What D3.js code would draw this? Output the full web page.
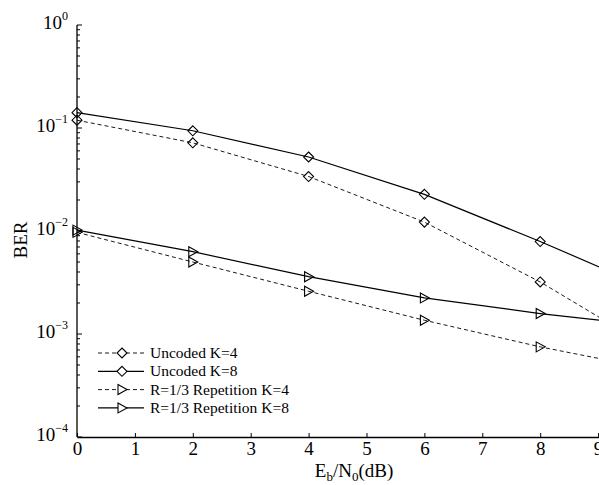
<!DOCTYPE html>
<html>
<head>
<meta charset="utf-8">
<script src="https://cdn.jsdelivr.net/npm/d3@7"></script>
<style>
  body { margin: 0; background: #fff; }
  svg { display: block; }
  text { font-family: "Liberation Serif", "DejaVu Serif", serif; fill: #000; }
</style>
</head>
<body>
<script>
// Eb/N0 values (dB)
const ebn0 = [0, 2, 4, 6, 8, 10];

// BER curves
const uncodedK4 = [0.119, 0.0718, 0.0338, 0.0122, 0.0032, 0.00068];
const uncodedK8 = [0.141, 0.094, 0.0523, 0.0227, 0.0079, 0.0026];
const repK4 = [0.0097, 0.0050, 0.0026, 0.00136, 0.00075, 0.00045];
const repK8 = [0.0102, 0.0063, 0.0036, 0.00224, 0.00158, 0.00118];

const xTicks = [0, 1, 2, 3, 4, 5, 6, 7, 8, 9, 10];
const yDecades = [-4, -3, -2, -1, 0];

const series = [
  { name: "Uncoded K=4", values: uncodedK4, dash: "4,3", marker: "diamond" },
  { name: "Uncoded K=8", values: uncodedK8, dash: null, marker: "diamond" },
  { name: "R=1/3 Repetition K=4", values: repK4, dash: "4,3", marker: "triangle" },
  { name: "R=1/3 Repetition K=8", values: repK8, dash: null, marker: "triangle" }
];

const width = 599, height = 485;

const svg = d3.select("body").append("svg")
    .attr("width", width)
    .attr("height", height);

const x = d3.scaleLinear().domain([0, 10]).range([77, 656]);
const y = d3.scaleLog().domain([1e-4, 1]).range([437, 25]);

const line = d3.line()
    .x((d, i) => x(ebn0[i]))
    .y(d => y(d));

function markerPath(type) {
  if (type === "diamond") return "M0,-5L5,0L0,5L-5,0Z";
  return "M-4,-5L5,0L-4,5Z";
}

// curves
series.forEach(s => {
  svg.append("path")
      .attr("d", line(s.values))
      .attr("fill", "none")
      .attr("stroke", "#000")
      .attr("stroke-width", s.dash ? 0.9 : 1.2)
      .attr("stroke-dasharray", s.dash);

  svg.selectAll(null)
      .data(s.values)
      .enter()
      .append("path")
      .attr("d", markerPath(s.marker))
      .attr("transform", (d, i) => `translate(${x(ebn0[i])},${y(d)})`)
      .attr("fill", "none")
      .attr("stroke", "#000")
      .attr("stroke-width", 1.1);
});

// x axis
const xAxis = svg.append("g")
    .attr("transform", `translate(0,${y(1e-4)})`)
    .call(d3.axisBottom(x).tickValues(xTicks).tickSize(-4).tickSizeOuter(0).tickPadding(5));
xAxis.select(".domain").attr("stroke-width", 1.3);
xAxis.selectAll("text").attr("font-size", 19).attr("font-family", "Liberation Serif, serif");

// y axis
const yAxis = svg.append("g").attr("transform", `translate(${x(0)},0)`);
yAxis.append("line")
    .attr("y1", y(1)).attr("y2", y(1e-4))
    .attr("stroke", "#000").attr("stroke-width", 1.3);

const minor = [];
yDecades.slice(0, -1).forEach(k => {
  for (let m = 2; m <= 9; m++) minor.push(m * Math.pow(10, k));
});
yAxis.selectAll(".minor")
    .data(minor)
    .enter()
    .append("line")
    .attr("x1", 0).attr("x2", 3)
    .attr("y1", d => y(d)).attr("y2", d => y(d))
    .attr("stroke", "#000");

yAxis.selectAll(".major")
    .data(yDecades)
    .enter()
    .append("line")
    .attr("x1", 0).attr("x2", 5)
    .attr("y1", d => y(Math.pow(10, d))).attr("y2", d => y(Math.pow(10, d)))
    .attr("stroke", "#000");

const yLabels = svg.selectAll(".ylab")
    .data(yDecades)
    .enter()
    .append("text")
    .attr("x", 68)
    .attr("y", d => y(Math.pow(10, d)) + 4)
    .attr("text-anchor", "end")
    .attr("font-size", 19);
yLabels.append("tspan").text("10");
yLabels.append("tspan")
    .attr("dy", -9)
    .attr("font-size", 12)
    .text(d => d === 0 ? "0" : "\u2212" + Math.abs(d));

// axis titles
svg.append("text")
    .attr("transform", "translate(27,240) rotate(-90)")
    .attr("text-anchor", "middle")
    .attr("font-size", 19)
    .text("BER");

const xt = svg.append("text")
    .attr("x", 354)
    .attr("y", 477)
    .attr("text-anchor", "middle")
    .attr("font-size", 19);
xt.append("tspan").text("E");
xt.append("tspan").attr("dy", 4).attr("font-size", 13).text("b");
xt.append("tspan").attr("dy", -4).text("/N");
xt.append("tspan").attr("dy", 4).attr("font-size", 13).text("0");
xt.append("tspan").attr("dy", -4).text("(dB)");

// legend
const legend = svg.append("g").attr("transform", "translate(98,353)");
const rows = legend.selectAll("g")
    .data(series)
    .enter()
    .append("g")
    .attr("transform", (d, i) => `translate(0,${i * 18.3})`);
rows.append("line")
    .attr("x1", 0).attr("x2", 46)
    .attr("stroke", "#000")
    .attr("stroke-width", d => d.dash ? 0.9 : 1.2)
    .attr("stroke-dasharray", d => d.dash);
rows.append("path")
    .attr("d", d => markerPath(d.marker))
    .attr("transform", "translate(24,0)")
    .attr("fill", "#fff")
    .attr("stroke", "#000")
    .attr("stroke-width", 1.1);
rows.append("text")
    .attr("x", 52)
    .attr("y", 5)
    .attr("font-size", 15.5)
    .text(d => d.name);
</script>
</body>
</html>
